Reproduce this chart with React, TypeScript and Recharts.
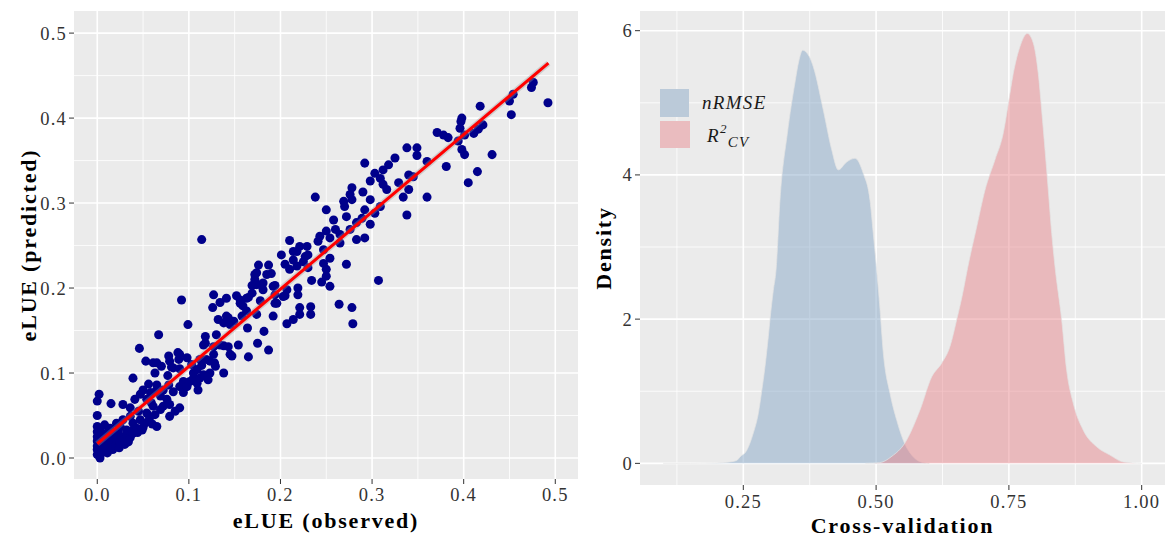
import React from 'react';
import {
  ScatterChart, Scatter, AreaChart, Area, XAxis, YAxis, CartesianGrid, Legend,
} from 'recharts';

// eLUE observed vs predicted
const eluePoints: [number, number][] = [
  [0.000, 0.004], [0.000, 0.010], [0.000, 0.014], [0.000, 0.020], [0.000, 0.025], [0.000, 0.031],
  [0.000, 0.037], [0.000, 0.050], [0.000, 0.067], [0.002, 0.075], [0.001, 0.008], [0.001, 0.018],
  [0.003, 0.000], [0.003, 0.012], [0.003, 0.022], [0.003, 0.033], [0.004, 0.027], [0.005, 0.006],
  [0.006, 0.016], [0.007, 0.010], [0.007, 0.025], [0.008, 0.020], [0.008, 0.039], [0.010, 0.012],
  [0.010, 0.029], [0.011, 0.006], [0.012, 0.021], [0.014, 0.014], [0.014, 0.035], [0.015, 0.064],
  [0.016, 0.018], [0.017, 0.010], [0.018, 0.025], [0.018, 0.030], [0.020, 0.015], [0.021, 0.022],
  [0.021, 0.041], [0.023, 0.031], [0.024, 0.012], [0.025, 0.018], [0.025, 0.037], [0.027, 0.025],
  [0.028, 0.063], [0.028, 0.045], [0.030, 0.022], [0.030, 0.016], [0.032, 0.027], [0.032, 0.033],
  [0.034, 0.019], [0.036, 0.024], [0.036, 0.049], [0.036, 0.059], [0.038, 0.032], [0.039, 0.029],
  [0.039, 0.041], [0.039, 0.094], [0.041, 0.069], [0.043, 0.035], [0.044, 0.030], [0.045, 0.055],
  [0.047, 0.045], [0.047, 0.075], [0.046, 0.129], [0.049, 0.033], [0.050, 0.036], [0.050, 0.080],
  [0.052, 0.041], [0.053, 0.114], [0.054, 0.053], [0.054, 0.069], [0.056, 0.087], [0.057, 0.047],
  [0.058, 0.077], [0.059, 0.065], [0.060, 0.040], [0.061, 0.061], [0.061, 0.112], [0.063, 0.051],
  [0.063, 0.100], [0.064, 0.079], [0.065, 0.037], [0.065, 0.086], [0.065, 0.112], [0.067, 0.145],
  [0.069, 0.057], [0.069, 0.073], [0.070, 0.108], [0.072, 0.061], [0.072, 0.080], [0.076, 0.069],
  [0.078, 0.086], [0.077, 0.097], [0.078, 0.120], [0.079, 0.049], [0.079, 0.063], [0.079, 0.114],
  [0.081, 0.107], [0.083, 0.078], [0.083, 0.106], [0.085, 0.055], [0.088, 0.124], [0.089, 0.116],
  [0.090, 0.059], [0.090, 0.084], [0.090, 0.105], [0.090, 0.122], [0.092, 0.186], [0.094, 0.077],
  [0.094, 0.090], [0.098, 0.084], [0.098, 0.118], [0.099, 0.157],
  [0.101, 0.090], [0.103, 0.110], [0.105, 0.094], [0.105, 0.100], [0.109, 0.088], [0.109, 0.104],
  [0.110, 0.080], [0.112, 0.116], [0.112, 0.094], [0.114, 0.257], [0.114, 0.109], [0.116, 0.098],
  [0.116, 0.133], [0.118, 0.135], [0.118, 0.143], [0.119, 0.116], [0.121, 0.092], [0.123, 0.100],
  [0.123, 0.114], [0.127, 0.122], [0.127, 0.131], [0.126, 0.177], [0.127, 0.192], [0.128, 0.112],
  [0.129, 0.108], [0.130, 0.145], [0.132, 0.163], [0.134, 0.133], [0.134, 0.183], [0.138, 0.100],
  [0.138, 0.132], [0.138, 0.159], [0.141, 0.167], [0.141, 0.188], [0.143, 0.131], [0.143, 0.165],
  [0.145, 0.122], [0.145, 0.157], [0.147, 0.120], [0.149, 0.161], [0.152, 0.191], [0.154, 0.133],
  [0.156, 0.186], [0.156, 0.182], [0.158, 0.167], [0.159, 0.179], [0.163, 0.188], [0.163, 0.173],
  [0.164, 0.153], [0.165, 0.119], [0.165, 0.189], [0.169, 0.194], [0.169, 0.203], [0.172, 0.210],
  [0.172, 0.216], [0.174, 0.204], [0.174, 0.218], [0.174, 0.169], [0.175, 0.135], [0.176, 0.227],
  [0.178, 0.204], [0.178, 0.185], [0.181, 0.198], [0.181, 0.206], [0.182, 0.149], [0.185, 0.216],
  [0.187, 0.227], [0.187, 0.127], [0.190, 0.217], [0.192, 0.167], [0.192, 0.202], [0.194, 0.192],
  [0.194, 0.182], [0.194, 0.203], [0.196, 0.182],
  [0.201, 0.239], [0.203, 0.190], [0.205, 0.228], [0.205, 0.191], [0.207, 0.198], [0.207, 0.158],
  [0.210, 0.256], [0.210, 0.222], [0.214, 0.233], [0.214, 0.243], [0.214, 0.163], [0.218, 0.243],
  [0.218, 0.226], [0.219, 0.200], [0.219, 0.192], [0.221, 0.249], [0.221, 0.177], [0.221, 0.169],
  [0.225, 0.231], [0.227, 0.237], [0.229, 0.249], [0.230, 0.224], [0.230, 0.239], [0.233, 0.178],
  [0.233, 0.169], [0.234, 0.209], [0.238, 0.307], [0.241, 0.255], [0.243, 0.261], [0.245, 0.207],
  [0.247, 0.245], [0.247, 0.229], [0.250, 0.292], [0.250, 0.267], [0.250, 0.222], [0.250, 0.214],
  [0.254, 0.259], [0.254, 0.235], [0.254, 0.202], [0.258, 0.280], [0.260, 0.269], [0.264, 0.181],
  [0.265, 0.263], [0.265, 0.253], [0.269, 0.302], [0.270, 0.296], [0.272, 0.284], [0.272, 0.228],
  [0.276, 0.310], [0.276, 0.269], [0.278, 0.318], [0.278, 0.304], [0.278, 0.177], [0.279, 0.158],
  [0.283, 0.277], [0.283, 0.257], [0.289, 0.282], [0.290, 0.313], [0.292, 0.347], [0.292, 0.292],
  [0.292, 0.259], [0.298, 0.326], [0.298, 0.304], [0.298, 0.275],
  [0.303, 0.335], [0.303, 0.288], [0.307, 0.209], [0.309, 0.329], [0.309, 0.296], [0.312, 0.339],
  [0.312, 0.322], [0.316, 0.316], [0.318, 0.345], [0.325, 0.353], [0.329, 0.324], [0.334, 0.307],
  [0.338, 0.365], [0.338, 0.286], [0.340, 0.333], [0.340, 0.316], [0.345, 0.331], [0.349, 0.365],
  [0.349, 0.356], [0.360, 0.349], [0.360, 0.307], [0.371, 0.383], [0.378, 0.380], [0.381, 0.343],
  [0.383, 0.377], [0.394, 0.373], [0.396, 0.388], [0.397, 0.396], [0.398, 0.400], [0.398, 0.363],
  [0.401, 0.380], [0.401, 0.357], [0.405, 0.324], [0.411, 0.382], [0.415, 0.337], [0.416, 0.387],
  [0.418, 0.414], [0.421, 0.392], [0.431, 0.357], [0.450, 0.420], [0.452, 0.404], [0.454, 0.428],
  [0.474, 0.436], [0.476, 0.442], [0.492, 0.418],
];

// linear fit end points
const fitObserved = [0, 0.4925];
const fitPredicted = [0.0168, 0.4646];

const elueTicks = [0, 0.1, 0.2, 0.3, 0.4, 0.5];
const elueMinor = [0.05, 0.15, 0.25, 0.35, 0.45];

// density curves
const nrmseX = [0.099, 0.15, 0.2, 0.225, 0.2375, 0.2438, 0.2564, 0.2688, 0.2782, 0.2846, 0.2908, 0.2971,
  0.3003, 0.3065, 0.3116, 0.319, 0.333, 0.347, 0.3545, 0.3618, 0.3685, 0.3756, 0.3818, 0.4006, 0.4164,
  0.4288, 0.4447, 0.4603, 0.4759, 0.4885, 0.4947, 0.5005, 0.5065, 0.5136, 0.5262, 0.5388, 0.5512,
  0.57, 0.589, 0.6];
const nrmseDensity = [0, 0, 0.005, 0.02, 0.04, 0.09, 0.18, 0.42, 0.69, 1.0, 1.34, 1.76,
  2.0, 2.4, 2.68, 3.65, 4.58, 5.27, 5.58, 5.73, 5.7, 5.62, 5.5, 4.9, 4.35,
  4.07, 4.18, 4.23, 4.02, 3.65, 3.19, 2.73, 2.22, 1.53, 0.97, 0.6, 0.32,
  0.09, 0.01, 0];

const r2X = [0.48, 0.507, 0.53, 0.554, 0.5826, 0.6047, 0.6235, 0.639, 0.6517, 0.6642, 0.672, 0.6894,
  0.705, 0.7238, 0.7394, 0.7489, 0.7583, 0.7709, 0.7846, 0.7959, 0.8053, 0.8117, 0.818, 0.8242,
  0.8306, 0.8368, 0.8494, 0.8588, 0.8713, 0.89, 0.9153, 0.9403, 0.965, 1.0];
const r2Density = [0, 0.01, 0.1, 0.28, 0.74, 1.2, 1.39, 1.62, 1.99, 2.4, 2.7, 3.28,
  3.79, 4.21, 4.58, 4.99, 5.41, 5.78, 5.96, 5.83, 5.41, 4.9, 4.35, 3.79,
  3.19, 2.73, 1.99, 1.29, 0.83, 0.46, 0.23, 0.115, 0.02, 0];

const cvTicks = [0.25, 0.5, 0.75, 1.0];
const cvMinor = [0.125, 0.375, 0.625, 0.875];
const densityTicks = [0, 2, 4, 6];
const densityMinor = [1, 3, 5];

const scatterRows = eluePoints.map(([x, y]) => ({ x, y }));
const fitRows = fitObserved.map((x, i) => ({ x, y: fitPredicted[i] }));

const densityRows = (() => {
  const byX = new Map<number, any>();
  nrmseX.forEach((x, i) => byX.set(x, { ...(byX.get(x) || { x }), nrmse: nrmseDensity[i] }));
  r2X.forEach((x, i) => byX.set(x, { ...(byX.get(x) || { x }), r2: r2Density[i] }));
  return Array.from(byX.values()).sort((a, b) => a.x - b.x);
})();

const FONT = '"Liberation Serif", "Times New Roman", serif';
const BG = '#EBEBEB';
const tickStyle = { fill: '#333', fontSize: 18.5, fontFamily: FONT, style: { letterSpacing: 1.2 } };
const titleStyle = { fontFamily: FONT, fontWeight: 'bold', fontSize: 22, fill: '#000', letterSpacing: 1.8 };

const BLUE = '#87A7C7';
const PINK = '#E7878D';

const DensityLegend = () => (
  <div style={{ fontFamily: FONT, fontStyle: 'italic', fontSize: 19, color: '#1a1a1a', letterSpacing: 1.3 }}>
    <div style={{ display: 'flex', alignItems: 'center', height: 28, marginBottom: 3 }}>
      <span style={{ width: 29, height: 28, background: '#BBCAD9', display: 'inline-block' }} />
      <span style={{ marginLeft: 13 }}>nRMSE</span>
    </div>
    <div style={{ display: 'flex', alignItems: 'center', height: 28 }}>
      <span style={{ width: 30, height: 27, background: '#EABCBF', display: 'inline-block' }} />
      <span style={{ marginLeft: 17, position: 'relative', top: 2 }}>
        R
        <span style={{ fontSize: 13, position: 'relative', top: -9 }}>2</span>
        <span style={{ fontSize: 15, position: 'relative', top: 5 }}>CV</span>
      </span>
    </div>
  </div>
);

export default function App() {
  return (
    <div style={{ position: 'absolute', left: 0, top: 0, width: 1168, height: 539, background: '#fff' }}>
      <div style={{ position: 'absolute', left: 0, top: 0 }}>
        <ScatterChart width={585} height={539} margin={{ top: 11, right: 7, bottom: 0, left: 0 }}>
          <CartesianGrid fill={BG} stroke="#fff" strokeWidth={0.8}
            horizontalValues={elueMinor} verticalValues={elueMinor} />
          <CartesianGrid stroke="#fff" strokeWidth={1.6}
            horizontalValues={elueTicks} verticalValues={elueTicks} />
          <XAxis type="number" dataKey="x" domain={[-0.0254, 0.5248]} ticks={elueTicks} interval={0}
            tickFormatter={(v: number) => v.toFixed(1)} axisLine={false} tickSize={5} tickMargin={4}
            tickLine={{ stroke: '#333' }} tick={tickStyle} height={60}
            label={{ value: 'eLUE (observed)', position: 'insideBottom', offset: 11, style: titleStyle }} />
          <YAxis type="number" dataKey="y" domain={[-0.0247, 0.526]} ticks={elueTicks} interval={0}
            tickFormatter={(v: number) => v.toFixed(1)} axisLine={false} tickSize={5} tickMargin={2}
            tickLine={{ stroke: '#333' }} tick={tickStyle} width={74}
            label={{ value: 'eLUE (predicted)', angle: -90, position: 'insideLeft', offset: 28,
              style: { ...titleStyle, textAnchor: 'middle' } }} />
          <Scatter data={scatterRows} fill="#00008B" isAnimationActive={false} />
          <Scatter data={fitRows} line={{ stroke: '#999', strokeWidth: 6, strokeOpacity: 0.35 }}
            shape={() => <g />} isAnimationActive={false} />
          <Scatter data={fitRows} line={{ stroke: '#FF0000', strokeWidth: 3 }}
            shape={() => <g />} isAnimationActive={false} />
        </ScatterChart>
      </div>
      <div style={{ position: 'absolute', left: 585, top: 0 }}>
        <AreaChart width={583} height={539} data={densityRows} margin={{ top: 11, right: 3, bottom: 0, left: 0 }}>
          <CartesianGrid fill={BG} stroke="#fff" strokeWidth={0.8}
            horizontalValues={densityMinor} verticalValues={cvMinor} />
          <CartesianGrid stroke="#fff" strokeWidth={1.6}
            horizontalValues={densityTicks} verticalValues={cvTicks} />
          <XAxis type="number" dataKey="x" domain={[0.0555, 1.0439]} ticks={cvTicks} interval={0}
            tickFormatter={(v: number) => v.toFixed(2)} axisLine={false} tickSize={5} tickMargin={5}
            tickLine={{ stroke: '#333' }} tick={tickStyle} height={54}
            label={{ value: 'Cross-validation', position: 'insideBottom', offset: 6, style: titleStyle }} />
          <YAxis type="number" domain={[-0.3, 6.273]} ticks={densityTicks} interval={0}
            axisLine={false} tickSize={5} tickMargin={2}
            tickLine={{ stroke: '#333' }} tick={tickStyle} width={55}
            label={{ value: 'Density', angle: -90, position: 'insideLeft', offset: 18,
              style: { ...titleStyle, textAnchor: 'middle' } }} />
          <Legend layout="vertical" align="center" verticalAlign="middle" content={<DensityLegend />}
            wrapperStyle={{ left: 75, top: 89, width: 'auto' }} />
          <Area type="monotone" dataKey="nrmse" connectNulls fill={BLUE} fillOpacity={0.5}
            stroke="#e4e4e4" strokeOpacity={0.7} strokeWidth={1} isAnimationActive={false} />
          <Area type="monotone" dataKey="r2" connectNulls fill={PINK} fillOpacity={0.5}
            stroke="#e4e4e4" strokeOpacity={0.7} strokeWidth={1} isAnimationActive={false} />
        </AreaChart>
      </div>
    </div>
  );
}
